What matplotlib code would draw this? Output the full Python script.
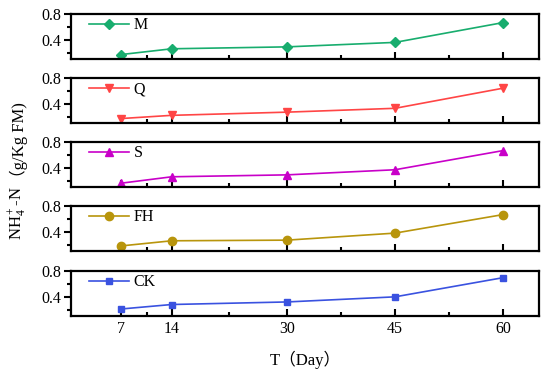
import matplotlib
matplotlib.use("Agg")
import matplotlib.pyplot as plt
from matplotlib.ticker import FixedLocator

plt.rcParams['font.family'] = ['Liberation Serif', 'Noto Sans CJK SC']
plt.rcParams['mathtext.fontset'] = 'custom'
plt.rcParams['mathtext.rm'] = 'Liberation Serif'
plt.rcParams['mathtext.it'] = 'Liberation Serif:italic'

# sampling days and NH4+-N values for each treatment (top to bottom)
days = [7, 14, 30, 45, 60]
labels = ['M', 'Q', 'S', 'FH', 'CK']
M = [0.17, 0.26, 0.29, 0.36, 0.67]
Q = [0.17, 0.22, 0.27, 0.33, 0.645]
S = [0.16, 0.26, 0.29, 0.37, 0.67]
FH = [0.18, 0.26, 0.27, 0.38, 0.67]
CK = [0.21, 0.28, 0.32, 0.40, 0.70]
series = [M, Q, S, FH, CK]

colors = ['#18ad6e', '#ff4545', '#c800c8', '#b8950c', '#3a52e0']
markers = ['D', 'v', '^', 'o', 's']
msizes = [5, 6, 6, 6, 5]

fig = plt.figure(figsize=(5.5, 3.82), dpi=100)

left, width = 0.129, 0.851
height = 0.117
tops = [14, 78, 142, 206, 271]

axes = []
for i in range(5):
    bottom = 1 - (tops[i] + 45) / 382
    ax = fig.add_axes([left, bottom, width, height])
    ax.plot(days, series[i], color=colors[i], marker=markers[i],
            markersize=msizes[i], linewidth=1.2, label=labels[i])
    ax.set_xlim(0, 65)
    ax.set_ylim(0.1, 0.8)
    ax.set_yticks([0.4, 0.8])
    ax.set_yticklabels(['0.4', '0.8'])
    ax.yaxis.set_minor_locator(FixedLocator([0.2, 0.6]))
    ax.set_xticks(days)
    ax.xaxis.set_minor_locator(FixedLocator([10.5, 22, 37.5, 52.5]))
    ax.tick_params(axis='x', which='major', direction='in', length=5, width=1.5)
    ax.tick_params(axis='x', which='minor', direction='in', length=3, width=1.5)
    ax.tick_params(axis='y', which='major', direction='out', length=5, width=1.5,
                   labelsize=11.5, pad=2)
    ax.tick_params(axis='y', which='minor', direction='out', length=3, width=1.5)
    for s in ax.spines.values():
        s.set_linewidth(1.6)
    if i < 4:
        ax.tick_params(axis='x', which='both', labelbottom=False)
    else:
        ax.tick_params(axis='x', labelsize=11.5)
    ax.legend(loc='upper left', frameon=False, fontsize=11.5, handlelength=2.5,
              borderaxespad=0.0, bbox_to_anchor=(0.025, 1.08), handletextpad=0.3)
    axes.append(ax)

axes[4].set_xlabel('T（Day）', fontsize=12, labelpad=10)

# y label in two pieces so the full-width bracket can use the CJK font
x_lab = 0.033
y_start = 1 - 240 / 382
t1 = fig.text(x_lab, y_start, 'NH$_4^+$-N', rotation=90,
              ha='center', va='bottom', fontsize=12)
fig.canvas.draw()
bb = t1.get_window_extent().transformed(fig.transFigure.inverted())
fig.text(x_lab + 0.002, bb.y1, '（g/Kg FM)', rotation=90,
         ha='center', va='bottom', fontsize=12)

fig.savefig('out.png', dpi=100)
